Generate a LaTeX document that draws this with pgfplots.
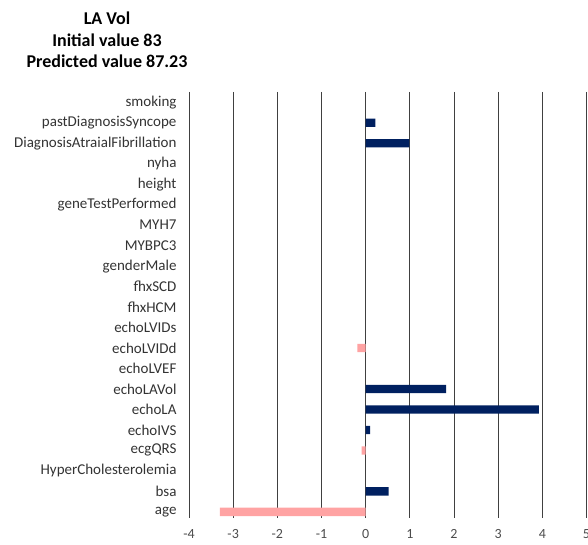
\documentclass[border=0pt]{standalone}
\usepackage{pgfplots}
\pgfplotsset{compat=1.18}
\usepackage{fontspec}
\setmainfont{Carlito}
\definecolor{navy}{HTML}{002060}
\definecolor{pinkbar}{HTML}{FFA3A3}
\begin{document}
\begin{tikzpicture}[x=1pt,y=1pt]
\path[use as bounding box] (0,0) rectangle (588,545);
\node[align=center,font=\bfseries\fontsize{18}{21.5}\selectfont] at (107,505) {LA Vol\\Initial value 83\\Predicted value 87.23};
\begin{axis}[
  at={(189pt,27pt)}, anchor=south west,
  scale only axis, width=397.5pt, height=426pt,
  xmin=-4, xmax=5, ymin=-0.5, ymax=20.3,
  y dir=reverse,
  xbar, bar width=8.3pt, bar shift=0pt,
  axis line style={draw=none},
  xtick={-4,-3,...,5},
  xticklabel={\fontsize{14}{16}\selectfont\strut\pgfmathprintnumber{\tick}},
  ytick={0,...,20},
  yticklabels={smoking,pastDiagnosisSyncope,DiagnosisAtraialFibrillation,nyha,height,geneTestPerformed,MYH7,MYBPC3,genderMale,fhxSCD,fhxHCM,echoLVIDs,echoLVIDd,echoLVEF,echoLAVol,echoLA,echoIVS,ecgQRS,HyperCholesterolemia,bsa,age},
  major tick length=0pt,
  xmajorgrids,
  major grid style={draw=black!75, line width=0.9pt},
  /pgf/number format/assume math mode=true,
  x tick label style={text=black!70, yshift=-6pt},
  y tick label style={font=\fontsize{15}{17}\selectfont, text=black!80, xshift=-9pt},
]
\addplot[draw=none, fill=navy] coordinates {(0.22,1) (0.99,2) (1.82,14) (3.92,15) (0.10,16) (0.52,19)};
\addplot[draw=none, fill=pinkbar] coordinates {(-0.19,12) (-0.09,17) (-3.3,20)};
\end{axis}
\end{tikzpicture}
\end{document}
